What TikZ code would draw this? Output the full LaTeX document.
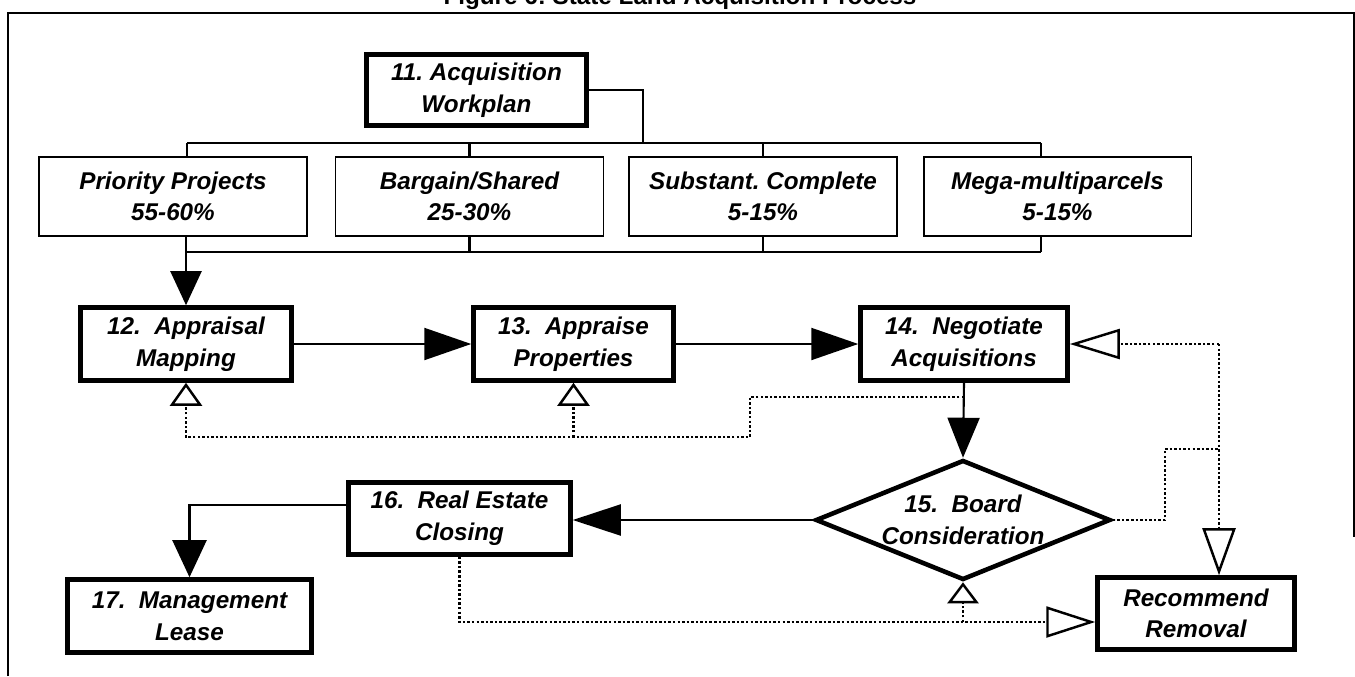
\documentclass[tikz,border=0pt]{standalone}
\usepackage{fontspec}
\setmainfont{Liberation Sans}
\usetikzlibrary{arrows.meta,shapes.geometric}
\frenchspacing
\begin{document}
\begin{tikzpicture}[x=0.02cm,y=-0.02cm,
  txt/.style={font=\fontsize{13.8}{18}\selectfont\bfseries\itshape, align=center, inner sep=0pt},
  numbox/.style={txt, draw, line width=2.6pt},
  catbox/.style={txt, draw, line width=1.1pt, minimum width=5.36cm, minimum height=1.58cm},
  conn/.style={line width=1.2pt},
  dotline/.style={line width=1.4pt, dash pattern=on 1.4pt off 1.2pt},
  fa/.style 2 args={-{Triangle[length=#1,width=#2]}},
  oa/.style 2 args={-{Triangle[fill=white,length=#1,width=#2]}}
]
\useasboundingbox (0,0) rectangle (1355,676);
% title (cut at the top) and frame
\node[font=\fontsize{13.8}{16}\selectfont\bfseries, anchor=base, inner sep=0pt] (title) at (680,5) {Figure 6: State Land Acquisition Process};
\draw[line width=1.5pt] (8,676) -- (8,13) -- (1354,13) -- (1354,537);

% nodes
\node[numbox, minimum width=4.4cm, minimum height=1.42cm] (b11) at (476.5,90) {11.\ Acquisition\\Workplan};
\node[catbox] (prio) at (173,196.5) {Priority Projects\\55-60\%};
\node[catbox] (barg) at (469.5,196.5) {Bargain/Shared\\25-30\%};
\node[catbox] (subs) at (763,196.5) {Substant. Complete\\5-15\%};
\node[catbox] (mega) at (1057.5,196.5) {Mega-multiparcels\\5-15\%};
\node[numbox, minimum width=4.22cm, minimum height=1.46cm] (b12) at (186,344) {12.\ \ Appraisal\\Mapping};
\node[numbox, minimum width=4.0cm, minimum height=1.46cm] (b13) at (573.5,344) {13.\ \ Appraise\\Properties};
\node[numbox, minimum width=4.14cm, minimum height=1.46cm] (b14) at (964,344) {14.\ \ Negotiate\\Acquisitions};
\node[txt, draw, line width=2.6pt, diamond, aspect=2.46, minimum width=5.9cm, minimum height=2.4cm] (dia) at (963,520) {15.\ \ Board\\Consideration};
\node[numbox, minimum width=4.44cm, minimum height=1.44cm] (b16) at (459.5,518.5) {16.\ \ Real Estate\\Closing};
\node[numbox, minimum width=4.88cm, minimum height=1.46cm] (b17) at (189.5,616) {17.\ \ Management\\Lease};
\node[numbox, minimum width=3.94cm, minimum height=1.44cm] (rr) at (1196,613.5) {Recommend\\Removal};

% helper coordinates
\coordinate (j0) at (643,143);
\coordinate (u1) at (187,143);
\coordinate (u4) at (1041,143);
\coordinate (l1) at (187,252);
\coordinate (l4) at (1041,252);
\coordinate (d2) at (750,397);
\coordinate (d3) at (750,437);
\coordinate (rx) at (1219,0);
\coordinate (r2) at (1165,449);
\coordinate (by) at (0,622);

% top tree
\draw[conn] (b11.east) -| (j0);
\draw[conn] (u1) -- (u4);
\draw[conn] (u1) -- (u1 |- prio.north);
\draw[conn] (barg.north |- u1) -- (barg.north);
\draw[conn] (subs.north |- u1) -- (subs.north);
\draw[conn] (u4) -- (u4 |- mega.north);
\draw[conn] (l1) -- (l4);
\draw[conn] (barg.south) -- (barg.south |- l1);
\draw[conn] (subs.south) -- (subs.south |- l1);
\draw[conn] (l4) -- (l4 |- mega.south);
\draw[conn, fa={0.68cm}{0.62cm}] (prio.south -| b12.north) -- (b12.north);

% main flow
\draw[conn, fa={0.94cm}{0.64cm}] (b12.east) -- (b13.west);
\draw[conn, fa={0.94cm}{0.64cm}] (b13.east) -- (b14.west);
\draw[conn, fa={0.8cm}{0.64cm}] (b14.south) -- (dia.north);
\draw[conn, fa={0.96cm}{0.62cm}] (dia.west) -- (dia.west -| b16.east);
\draw[conn, fa={0.74cm}{0.68cm}] ([yshift=0.27cm]b16.west) -| (b17.north);

% dotted feedback lines
\draw[dotline, oa={0.46cm}{0.64cm}] (b14.south |- d2) -- (d2) -- (d3) -| (b12.south);
\draw[dotline, oa={0.46cm}{0.64cm}] (b13.south |- d3) -- (b13.south);
\draw[dotline, oa={1.0cm}{0.6cm}] (rx |- b14.east) -- (b14.east);
\draw[dotline, oa={0.94cm}{0.66cm}] (rx |- b14.east) -- (rx |- rr.north);
\draw[dotline] (dia.east) -| (r2) -- (rx |- r2);
\draw[dotline, oa={0.98cm}{0.62cm}] (b16.south) |- (rr.west |- by);
\draw[dotline, oa={0.42cm}{0.62cm}] (dia.south |- by) -- (dia.south);
\end{tikzpicture}
\end{document}
